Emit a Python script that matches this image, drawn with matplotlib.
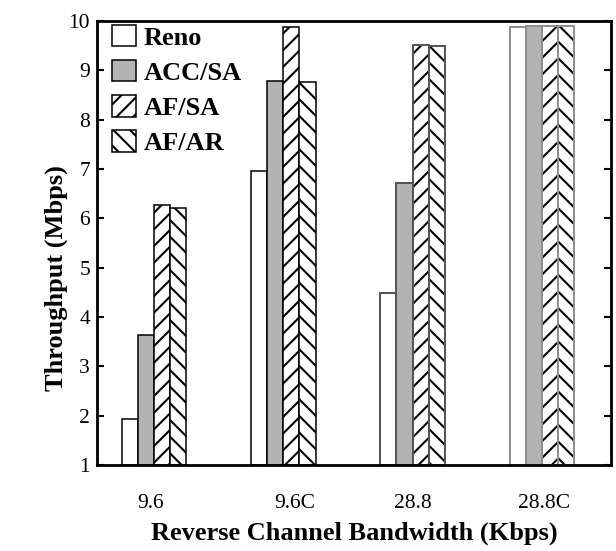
import numpy as np
import matplotlib
matplotlib.use("Agg")
import matplotlib.pyplot as plt

plt.rcParams['font.family'] = ['Liberation Serif', 'DejaVu Serif']
plt.rcParams['hatch.linewidth'] = 1.5

# Throughput per TCP variant for each reverse-channel bandwidth setting
categories = ["9.6", "9.6C", "28.8", "28.8C"]
reno = [1.93, 6.95, 4.49, 9.87]
acc_sa = [3.63, 8.78, 6.71, 9.89]
af_sa = [6.27, 9.88, 9.52, 9.90]
af_ar = [6.20, 8.76, 9.49, 9.89]

series = [
    ("Reno", reno, "white", None),
    ("ACC/SA", acc_sa, "#b3b3b3", None),
    ("AF/SA", af_sa, "white", "//"),
    ("AF/AR", af_ar, "white", "\\\\"),
]
# outline colour of the bars in each group
group_edges = ["black", "black", "#5a5a5a", "#9a9a9a"]
# horizontal nudge of each category label relative to its group centre
label_shift = [-0.03, 0.09, 0.0, 0.02]

fig = plt.figure(figsize=(6.16, 5.51), dpi=100)
ax = fig.add_axes([97 / 616, 1 - 465 / 551, (611 - 97) / 616, (465 - 21) / 551])

x = np.arange(1, len(categories) + 1)
width = 0.125
offsets = (np.arange(len(series)) - 1.5) * width

for (name, vals, color, hatch), off in zip(series, offsets):
    ax.bar(x + off, np.array(vals) - 1, width=width, bottom=1, color=color,
           edgecolor="black", hatch=hatch, linewidth=1.1, label=name)
    for gi, (xi, v) in enumerate(zip(x, vals)):
        if group_edges[gi] != "black":
            ax.bar(xi + off, v - 1, width=width, bottom=1, fill=False,
                   edgecolor=group_edges[gi], linewidth=1.3)

ax.set_xlim(0.559, 4.534)
ax.set_ylim(1, 10)
ax.set_yticks(range(1, 11))
ax.set_xticks(x + np.array(label_shift))
ax.set_xticklabels(categories)

ax.tick_params(axis='y', direction='in', length=5, width=1.5, right=True,
               labelsize=15.5, pad=5)
ax.tick_params(axis='x', length=0, labelsize=15.5, pad=21)
for sp in ax.spines.values():
    sp.set_linewidth(2.0)

ax.set_ylabel("Throughput (Mbps)", fontsize=19, fontweight='bold')
ax.yaxis.set_label_coords(-0.056, 0.422)
ax.set_xlabel("Reverse Channel Bandwidth (Kbps)", fontsize=19,
              fontweight='bold', labelpad=6)

leg = ax.legend(loc='upper left', bbox_to_anchor=(15 / 514, 1 - 4 / 444),
                frameon=False, prop={'size': 19, 'weight': 'bold'},
                handlelength=0.9, handleheight=0.87, handletextpad=0.3,
                labelspacing=0.39, borderaxespad=0, borderpad=0)

fig.savefig("out.png", dpi=100)
